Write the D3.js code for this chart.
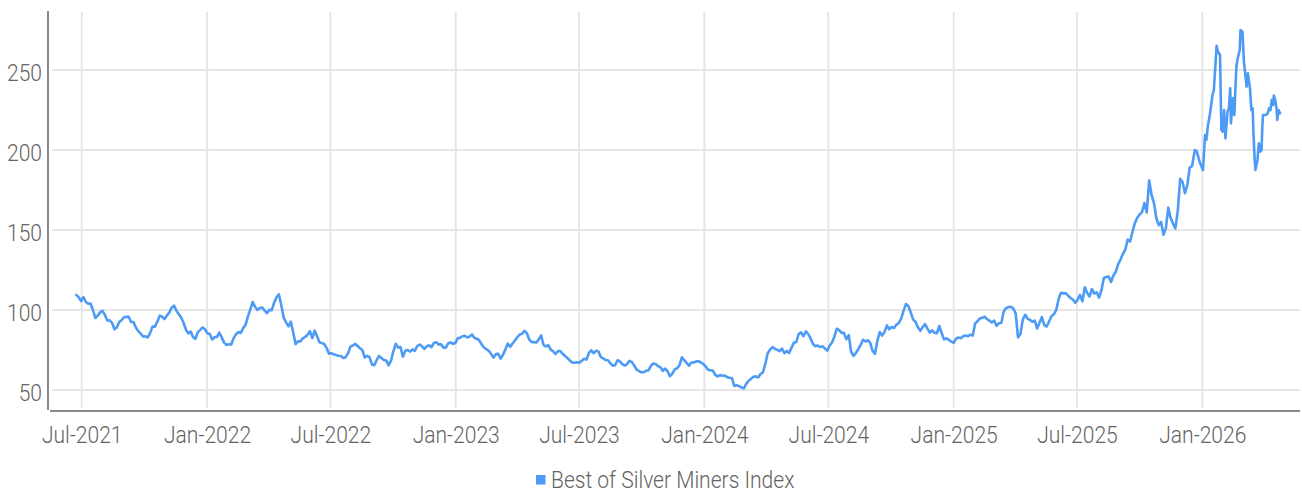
<!DOCTYPE html>
<html><head><meta charset="utf-8">
<script src="https://cdn.jsdelivr.net/npm/d3@7"></script>
<style>
html,body{margin:0;padding:0;background:#fff;}
svg{display:block;}
text{font-family:Roboto,"Noto Sans",sans-serif;font-weight:300;fill:#636363;}
</style></head><body>
<svg id="chart" width="1302" height="492"></svg>
<script>
const seriesName = "Best of Silver Miners Index";
// twice-weekly readings (every 3.5 days) from 2021-06-23 to mid-Dec 2025
const historyStart = "2021-06-23";
const historyValues = [
  109.5,108,105.5,108,105,104,104,100,95,96.5,
  98.5,99.5,97,93.5,93.5,92,88,89,92.5,93.6,
  95.5,95.7,95.7,92.5,92.5,89,86.8,85.3,83.4,83.5,
  82.8,85.7,89.7,89.6,92.7,96.5,95.8,94.3,96.6,98.4,
  101.4,102.7,99.6,97.4,95.3,92,87.7,85.4,86.5,83,
  82,86.2,87.6,89.1,87.9,85.4,85,81.6,83,83.2,
  85.9,82.9,79.6,78.2,78.6,78.4,82.4,84.8,86.2,85.6,
  88.7,90.7,96,100.4,105,102,100,101.2,101.6,99.6,
  98,100.1,99.9,104.6,108,109.7,103,95.2,92.3,89.8,
  92.7,85.9,78.6,80.5,80.4,82.3,83.1,84.5,86.7,82.4,
  87.1,83.6,79.8,79.3,78.8,76.2,72.7,73,72.3,71.8,
  71.4,71.2,70,70.5,73,77.1,77.8,78.8,77.5,76.1,
  75,70.3,71.3,70.5,66,65.5,68.8,71.3,70,68.8,
  68.5,65.4,68.3,74.2,78.9,76.5,76.9,70.8,74.6,75,
  74,75.4,74.5,77.5,78.4,77.3,75.7,77.3,77.9,76.8,
  79.4,79.8,78.5,78.5,76.5,76.5,79.2,79.7,78.9,79.4,
  82.3,82.7,83.6,83.9,82.8,83.4,84.7,82.5,82.1,81,
  78.6,76.6,75.5,74.5,72.5,70.3,72.4,72.6,69.6,72,
  75.4,79,77,79.1,81,83.1,84.7,85.2,86.9,85.5,
  81.5,79.9,79.9,79.7,81.7,84.1,78.1,77.2,78,75.2,
  74.2,72.5,74.3,74.3,72.6,71.3,70,68.5,67.2,67,
  67.4,67.1,68.2,69.5,69,73.2,74.8,73,74.5,74.1,
  70.6,69.8,68.75,68.6,66.7,65.2,65.5,68.6,67.9,66.2,
  65.3,66.2,68.2,67.5,65.3,62.8,61.8,61.1,61.1,62,
  62.3,65,66.6,66.2,64.9,64.2,62,63.4,61.6,58.6,
  60.2,62.9,63.6,65.4,70.4,68.6,67,65.2,67.2,67.2,
  67.9,68,67.2,66.2,64.7,62.7,62.3,62.1,59.5,58.5,
  59.3,58.9,59,58,57.6,57.5,52.5,53,52.4,51.6,
  51,53.8,55.7,57,58.3,58.5,57.8,60,61,66.3,
  73,75.2,76.8,75.8,75.1,74.3,75.8,73,74.4,73.2,
  76.5,79.6,80,85,86,83.6,86.7,85,82.2,78.7,
  77.4,77.8,76.8,77.3,75.9,74.6,77.8,79.7,83.5,88.3,
  87.4,85.7,85.7,81.7,84.3,73.9,71.3,73.1,75.5,78.2,
  81.4,80.3,81.2,79.5,74.5,72.6,80.8,86.2,84,86.3,
  90.4,88,89.4,88.8,90.9,91.9,94.6,99.6,103.7,102.5,
  98.5,94,92.7,89.2,87,89.3,91.2,88.4,85.9,87.3,
  85.8,85.5,90,85.3,81.6,82.3,81.3,80.2,79.4,82.1,
  82.8,82.4,83.6,84,83.6,84.6,84,91.6,93,94.7,
  95.1,95.8,94.3,93.4,92.1,93.4,90.1,91.7,92,99,
  101.2,101.9,102,101,97.9,82.9,85,94.1,97,94.6,
  93.8,92.7,93.3,88.5,92,95.6,90.5,89.7,92.7,96.1,
  97.3,99.9,106.7,110.8,110.4,110.5,109,107.5,106.5,104.5,
  106.5,109.4,105.5,114.2,110.6,108.5,113,110.2,111,107.7,
  112.5,120,120.6,120.9,117.5,121.6,123.9,128.7,131.5,135.1,
  137.8,144,142.8,148.9,154.3,157.6,159.7,161.2,166.9,161,
  181,172,167,157.5,153,155,147,151,164,157.5,
  154,151,162,182,180,173,178,189,190
];
const recentDates = [
  "2025-12-21","2025-12-24","2025-12-28","2025-12-31","2026-01-02","2026-01-05","2026-01-07","2026-01-09","2026-01-12","2026-01-14",
  "2026-01-16","2026-01-18","2026-01-19","2026-01-22","2026-01-24","2026-01-27","2026-01-29","2026-01-31","2026-02-02","2026-02-04",
  "2026-02-07","2026-02-09","2026-02-11","2026-02-12","2026-02-15","2026-02-17","2026-02-20","2026-02-22","2026-02-25","2026-02-26",
  "2026-03-01","2026-03-03","2026-03-05","2026-03-07","2026-03-09","2026-03-12","2026-03-14","2026-03-16","2026-03-17","2026-03-19",
  "2026-03-20","2026-03-23","2026-03-25","2026-03-27","2026-03-29","2026-03-30","2026-03-31","2026-04-04","2026-04-07","2026-04-09",
  "2026-04-11","2026-04-13","2026-04-15","2026-04-16","2026-04-18","2026-04-20","2026-04-21","2026-04-23","2026-04-25"
];
const recentValues = [
  200,199,192.7,189.6,187.5,209.4,206.3,214.6,221.9,228.1,
  234.4,237.5,244.8,265.2,261.5,259.4,212.5,211.5,225,207.3,
  223.9,226,238.5,216.7,232.3,221.9,252,257.3,262.5,275,
  273.9,255.2,247.9,239.6,247.9,238.5,225,226,211.5,192.7,
  187.5,193.8,204.2,199,200,213.5,221.9,221.9,222.9,226,
  225,231.3,228.1,234,231.3,226,218.8,225,222.9
];
const xTickDates = ["2021-07-01","2022-01-01","2022-07-01","2023-01-01","2023-07-01","2024-01-01","2024-07-01","2025-01-01","2025-07-01","2026-01-01"];
const yTickValues = [50,100,150,200,250];

(function(){
const parse = d3.timeParse("%Y-%m-%d");
const start = parse(historyStart);
const data = historyValues.map((v,i)=>({date:d3.timeHour.offset(start,84*i),value:v}))
  .concat(recentDates.map((d,i)=>({date:parse(d),value:recentValues[i]})));

const mLeft=48,mRight=1300,mTop=10,mBottom=410;
const sx=0.915;
const svg=d3.select("#chart");
const x=d3.scaleTime().domain([new Date(2021,4,12,12),new Date(2026,4,24,10)]).range([mLeft,mRight]);
const y=d3.scaleLinear().domain([37.5,287.5]).range([mBottom,mTop]);
const xt=xTickDates.map(parse);

// gridlines
svg.append("g").selectAll("line").data(xt).join("line")
  .attr("x1",d=>x(d)).attr("x2",d=>x(d)).attr("y1",12).attr("y2",408)
  .attr("stroke","#e6e6e6").attr("stroke-width",2);
svg.append("g").selectAll("line").data(yTickValues).join("line")
  .attr("x1",52).attr("x2",mRight).attr("y1",d=>y(d)).attr("y2",d=>y(d))
  .attr("stroke","#e6e6e6").attr("stroke-width",2);

// axes
const gx=svg.append("g").attr("transform",`translate(0,411)`)
  .call(d3.axisBottom(x).tickValues(xt).tickFormat(d3.timeFormat("%b-%Y")).tickSize(0).tickSizeOuter(0).tickPadding(16));
gx.select(".domain").attr("stroke","#8a8a8a").attr("stroke-width",2).attr("d",`M50,0H${mRight}`);
gx.selectAll("text").attr("font-size",23).attr("font-family",null).attr("fill","#636363")
  .attr("dy","0.71em").attr("transform",`scale(${sx},1)`);

const gy=svg.append("g").attr("transform",`translate(${mLeft},0)`)
  .call(d3.axisLeft(y).tickValues(yTickValues).tickSize(0).tickSizeOuter(0).tickPadding(6));
gy.select(".domain").attr("stroke","#8a8a8a").attr("stroke-width",2).attr("d",`M0,11V410`);
gy.selectAll("text").attr("font-size",23).attr("font-family",null).attr("fill","#636363")
  .attr("x",-6/sx).attr("dy","0.45em").attr("transform",`scale(${sx},1)`);

// line
svg.append("path").datum(data)
  .attr("fill","none").attr("stroke","#4d9bf5").attr("stroke-width",2.6)
  .attr("stroke-linejoin","round").attr("stroke-linecap","round")
  .attr("d",d3.line().x(d=>x(d.date)).y(d=>y(d.value)));

// legend
const lg=svg.append("g");
lg.append("rect").attr("x",536).attr("y",475).attr("width",9.5).attr("height",9.5).attr("fill","#4d9bf5");
lg.append("text").attr("x",551/sx).attr("y",488).attr("font-size",23).attr("fill","#636363")
  .attr("transform",`scale(${sx},1)`).text(seriesName);
})();
</script>
</body></html>
